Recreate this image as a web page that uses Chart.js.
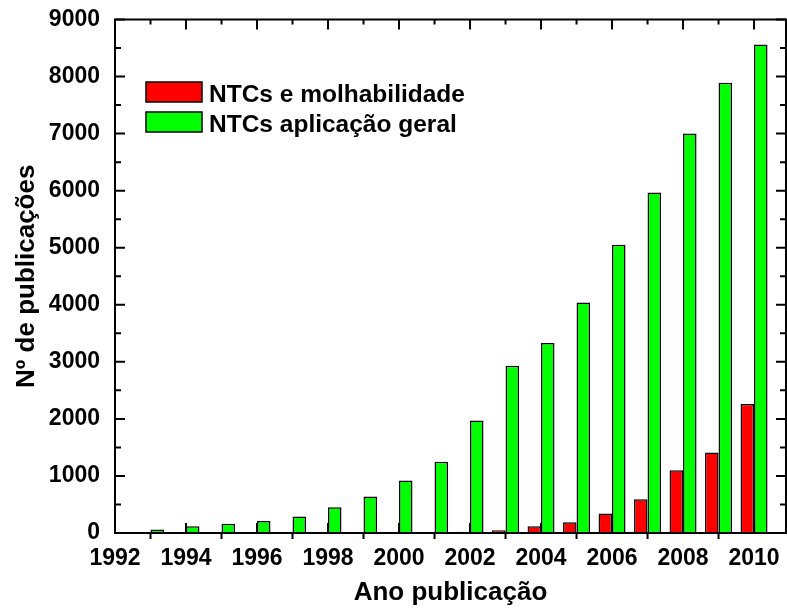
<!DOCTYPE html>
<html>
<head>
<meta charset="utf-8">
<script src="https://cdn.jsdelivr.net/npm/chart.js@4/dist/chart.umd.min.js"></script>
<style>
  body { margin: 0; background: #fff; }
  canvas { display: block; }
</style>
</head>
<body>
<canvas id="my_bar_chart" width="787" height="614"></canvas>
<script>
// data
const years = [1993, 1994, 1995, 1996, 1997, 1998, 1999, 2000, 2001, 2002, 2003, 2004, 2005, 2006, 2007, 2008, 2009, 2010];
const molhabilidade = [0, 0, 0, 0, 0, 0, 0, 0, 10, 20, 50, 120, 190, 340, 590, 1100, 1410, 2260];
const geral = [60, 120, 160, 210, 290, 450, 640, 920, 1250, 1970, 2930, 3330, 4040, 5050, 5970, 7000, 7890, 8560];
const xTicks = [1992, 1994, 1996, 1998, 2000, 2002, 2004, 2006, 2008, 2010];
const yTicks = [0, 1000, 2000, 3000, 4000, 5000, 6000, 7000, 8000, 9000];
const labels = ["NTCs e molhabilidade", "NTCs aplicação geral"];

const FONT = '"Liberation Sans", Arial, sans-serif';

// frame, ticks and legend like the Origin plot
const frameTicks = {
  id: "frameTicks",
  beforeDatasetsDraw(chart) {
    const { ctx, chartArea: a, scales: { x, y } } = chart;
    ctx.save();
    ctx.strokeStyle = "#000";
    ctx.lineWidth = 2;
    ctx.beginPath();
    for (let v = 0; v <= 9000; v += 500) {
      const py = y.getPixelForValue(v);
      const len = v % 1000 === 0 ? 10 : 6;
      ctx.moveTo(a.left, py); ctx.lineTo(a.left + len, py);
      ctx.moveTo(a.right, py); ctx.lineTo(a.right - len, py);
    }
    for (let yr = 1992; yr <= 2010; yr++) {
      const px = x.getPixelForValue(yr);
      if (yr % 2 === 0) {
        ctx.moveTo(px, a.top); ctx.lineTo(px, a.top + 10);
        ctx.moveTo(px, a.bottom); ctx.lineTo(px, a.bottom - 10);
      } else {
        ctx.moveTo(px, a.top); ctx.lineTo(px, a.top + 5);
        ctx.moveTo(px, a.bottom); ctx.lineTo(px, a.bottom + 6);
      }
    }
    ctx.stroke();
    ctx.restore();
  },
  afterDatasetsDraw(chart) {
    const { ctx, chartArea: a } = chart;
    ctx.save();
    ctx.strokeStyle = "#000";
    ctx.lineWidth = 2;
    ctx.strokeRect(a.left, a.top, a.right - a.left, a.bottom - a.top);
    // legend
    ctx.font = "bold 24.5px " + FONT;
    ctx.textBaseline = "alphabetic";
    chart.data.datasets.forEach((ds, i) => {
      const bx = a.left + 31;
      const by = a.top + 62.5 + i * 30;
      ctx.fillStyle = ds.backgroundColor;
      ctx.fillRect(bx, by, 56, 20);
      ctx.lineWidth = 1.5;
      ctx.strokeStyle = "#000";
      ctx.strokeRect(bx, by, 56, 20);
      ctx.fillStyle = "#000";
      ctx.fillText(ds.label, bx + 63, by + 19.5);
    });
    ctx.restore();
  },
};

const bar_chart = document.getElementById("my_bar_chart");
new Chart(bar_chart, {
  type: "bar",
  data: {
    datasets: [
      {
        label: labels[0],
        data: years.map((yr, i) => ({ x: yr, y: molhabilidade[i] })),
        backgroundColor: "rgb(255, 0, 0)",
        borderColor: "#000",
        borderWidth: 1.5,
      },
      {
        label: labels[1],
        data: years.map((yr, i) => ({ x: yr, y: geral[i] })),
        backgroundColor: "rgb(0, 255, 0)",
        borderColor: "#000",
        borderWidth: 1.5,
      },
    ],
  },
  options: {
    responsive: false,
    animation: false,
    devicePixelRatio: 1,
    layout: { padding: { top: 19.5, right: 1, left: 0, bottom: 0 } },
    datasets: {
      bar: { categoryPercentage: 0.76, barPercentage: 1.0 },
    },
    plugins: {
      legend: { display: false },
      tooltip: { enabled: false },
    },
    scales: {
      x: {
        type: "linear",
        offset: false,
        min: 1992,
        max: 2010.9,
        grid: { display: false, drawTicks: false, offset: false },
        border: { display: false },
        afterBuildTicks: (scale) => {
          scale.ticks = xTicks.map((v) => ({ value: v }));
        },
        afterFit: (scale) => {
          scale.height = 81;
          scale.paddingLeft = 0;
          scale.paddingRight = 0;
        },
        ticks: {
          color: "#000",
          font: { family: FONT, size: 23, weight: "bold" },
          padding: 12,
          maxRotation: 0,
          autoSkip: false,
          callback: (v) => String(v),
        },
        title: {
          display: true,
          text: "Ano publicação",
          color: "#000",
          font: { family: FONT, size: 26, weight: "bold" },
          padding: { top: 0, bottom: 6 },
        },
      },
      y: {
        min: 0,
        max: 9000,
        grid: { display: false, drawTicks: false },
        border: { display: false },
        afterBuildTicks: (scale) => {
          scale.ticks = yTicks.map((v) => ({ value: v }));
        },
        afterFit: (scale) => {
          scale.width = 115;
          scale.paddingTop = 0;
          scale.paddingBottom = 0;
        },
        ticks: {
          color: "#000",
          font: { family: FONT, size: 23, weight: "bold" },
          padding: 15,
          callback: (v) => String(v),
        },
        title: {
          display: true,
          text: "Nº de publicações",
          color: "#000",
          font: { family: FONT, size: 26, weight: "bold" },
          padding: { top: 11, bottom: 0 },
        },
      },
    },
  },
  plugins: [frameTicks],
});
</script>
</body>
</html>
